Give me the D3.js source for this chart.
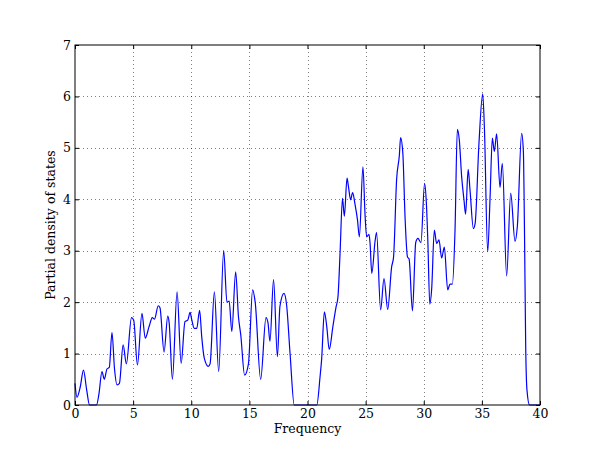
<!DOCTYPE html>
<html><head><meta charset="utf-8">
<script src="https://cdn.jsdelivr.net/npm/d3@7"></script>
<style>body{margin:0;background:#fff}svg{display:block}text{font-family:"DejaVu Serif",serif;fill:#000}</style>
</head><body><svg id="c" width="600" height="450"></svg>
<script>
const xTicks = [0,5,10,15,20,25,30,35,40];
const yTicks = [0,1,2,3,4,5,6,7];
const xLabel = "Frequency";
const yLabel = "Partial density of states";
const freq = [0,0.17,0.45,0.73,1.0,1.25,1.85,2.05,2.32,2.52,2.75,2.95,3.18,3.4,3.62,3.82,4.14,4.42,4.86,5.05,5.37,5.76,6.04,6.38,6.65,6.84,7.16,7.31,7.66,7.98,8.1,8.38,8.78,9.13,9.46,9.7,9.9,10.05,10.26,10.47,10.72,10.9,11.12,11.47,11.62,11.99,12.36,12.79,13.07,13.26,13.49,13.82,14.06,14.26,14.59,14.92,15.28,15.5,15.97,16.43,16.6,16.77,17.08,17.41,17.63,17.98,18.2,18.5,18.86,20.8,21.08,21.22,21.45,21.66,21.87,22.18,22.45,22.62,22.8,23.01,23.17,23.4,23.52,23.71,23.88,24.09,24.3,24.46,24.77,24.95,25.09,25.29,25.38,25.53,25.82,25.94,26.29,26.58,26.9,27.24,27.4,27.67,27.9,28.01,28.2,28.39,28.6,28.74,29.03,29.31,29.5,29.76,30.07,30.22,30.35,30.52,30.68,30.91,31.11,31.31,31.54,31.77,32.06,32.26,32.46,32.69,32.89,33.06,33.26,33.46,33.6,33.82,33.98,34.27,34.42,34.75,35.07,35.22,35.5,35.7,35.9,36.07,36.27,36.56,36.76,37.13,37.48,37.85,38.05,38.42,38.57,38.66,38.77,38.88,39.1,40];
const dos = [0.42,0.15,0.35,0.68,0.3,0,0,0.2,0.65,0.5,0.7,0.73,1.41,0.7,0.39,0.42,1.17,0.8,1.7,1.65,0.78,1.78,1.3,1.53,1.7,1.67,1.93,1.89,1.03,1.73,1.6,0.5,2.2,0.81,1.62,1.65,1.8,1.65,1.49,1.49,1.84,1.33,0.91,0.75,0.8,2.2,0.65,3.0,2.0,2.02,1.43,2.59,1.72,1.36,0.58,0.8,2.24,2.0,0.5,1.7,1.6,1.24,2.44,0.94,1.92,2.17,1.95,1.0,0,0,0.55,0.9,1.81,1.52,1.08,1.52,1.9,2.1,2.95,4.02,3.67,4.41,4.25,3.99,4.13,3.9,3.6,3.27,4.63,3.7,3.27,3.32,3.15,2.56,3.2,3.35,1.85,2.46,1.86,2.69,2.87,4.4,4.85,5.2,4.9,3.66,2.88,2.84,1.83,3.16,3.24,3.16,4.31,3.95,3.2,1.96,2.25,3.4,3.14,3.21,2.86,3.07,2.24,2.35,2.35,3.4,5.36,5.15,4.44,3.99,3.71,4.58,4.18,3.43,3.53,5.09,6.05,5.37,2.98,4.0,5.19,4.93,5.27,4.23,4.7,2.51,4.12,3.18,3.47,5.28,4.93,3.5,1.13,0.29,0,0];

const svg = d3.select("#c");
const m = {l:75, r:60, t:45, b:45};
const W = 600, H = 450;
const x = d3.scaleLinear().domain([0,40]).range([m.l, W-m.r]);
const y = d3.scaleLinear().domain([0,7]).range([H-m.b, m.t]);

// grid
const g = svg.append("g");
g.selectAll(".vg").data(xTicks.slice(1,-1)).enter().append("line")
  .attr("x1",d=>Math.round(x(d))+0.5).attr("x2",d=>Math.round(x(d))+0.5)
  .attr("y1",y(0)).attr("y2",y(7))
  .attr("stroke","#000").attr("stroke-width",0.5).attr("stroke-dasharray","1,3");
g.selectAll(".hg").data(yTicks.slice(1,-1)).enter().append("line")
  .attr("y1",d=>Math.round(y(d))+0.5).attr("y2",d=>Math.round(y(d))+0.5)
  .attr("x1",x(0)).attr("x2",x(40))
  .attr("stroke","#000").attr("stroke-width",0.5).attr("stroke-dasharray","1,3");

// line
const pts = freq.map((f,i)=>[f,dos[i]]);
svg.append("path").datum(pts)
  .attr("d", d3.line().x(d=>x(d[0])).y(d=>y(d[1])).curve(d3.curveMonotoneX))
  .attr("fill","none").attr("stroke","#0000ff").attr("stroke-width",1.2);

// axes (ticks inward)
const fmt = d3.format("d");
const ax = (gen, tr) => { const a = svg.append("g").attr("transform",tr).call(gen);
  a.select(".domain").remove(); a.selectAll("line").attr("stroke","#000"); return a; };
const bx = ax(d3.axisBottom(x).tickValues(xTicks).tickFormat(fmt).tickSizeInner(-4).tickPadding(4.5), `translate(0,${y(0)})`);
bx.selectAll("text").attr("font-size","12.5px").attr("font-family","DejaVu Serif");
const tx = ax(d3.axisTop(x).tickValues(xTicks).tickFormat("").tickSizeInner(-4), `translate(0,${y(7)})`);
const ly = ax(d3.axisLeft(y).tickValues(yTicks).tickFormat(fmt).tickSizeInner(-4).tickPadding(4), `translate(${x(0)},0)`);
ly.selectAll("text").attr("font-size","12.5px").attr("font-family","DejaVu Serif");
const ry = ax(d3.axisRight(y).tickValues(yTicks).tickFormat("").tickSizeInner(-4), `translate(${x(40)},0)`);

svg.append("rect").attr("x",x(0)).attr("y",y(7)).attr("width",x(40)-x(0)).attr("height",y(0)-y(7))
  .attr("fill","none").attr("stroke","#000").attr("stroke-width",1);

svg.append("text").attr("x",(x(0)+x(40))/2).attr("y",433).attr("text-anchor","middle")
  .attr("font-size","12.5px").text(xLabel);
svg.append("text").attr("transform",`translate(55,${(y(0)+y(7))/2}) rotate(-90)`).attr("text-anchor","middle")
  .attr("font-size","12.5px").text(yLabel);
</script></body></html>
